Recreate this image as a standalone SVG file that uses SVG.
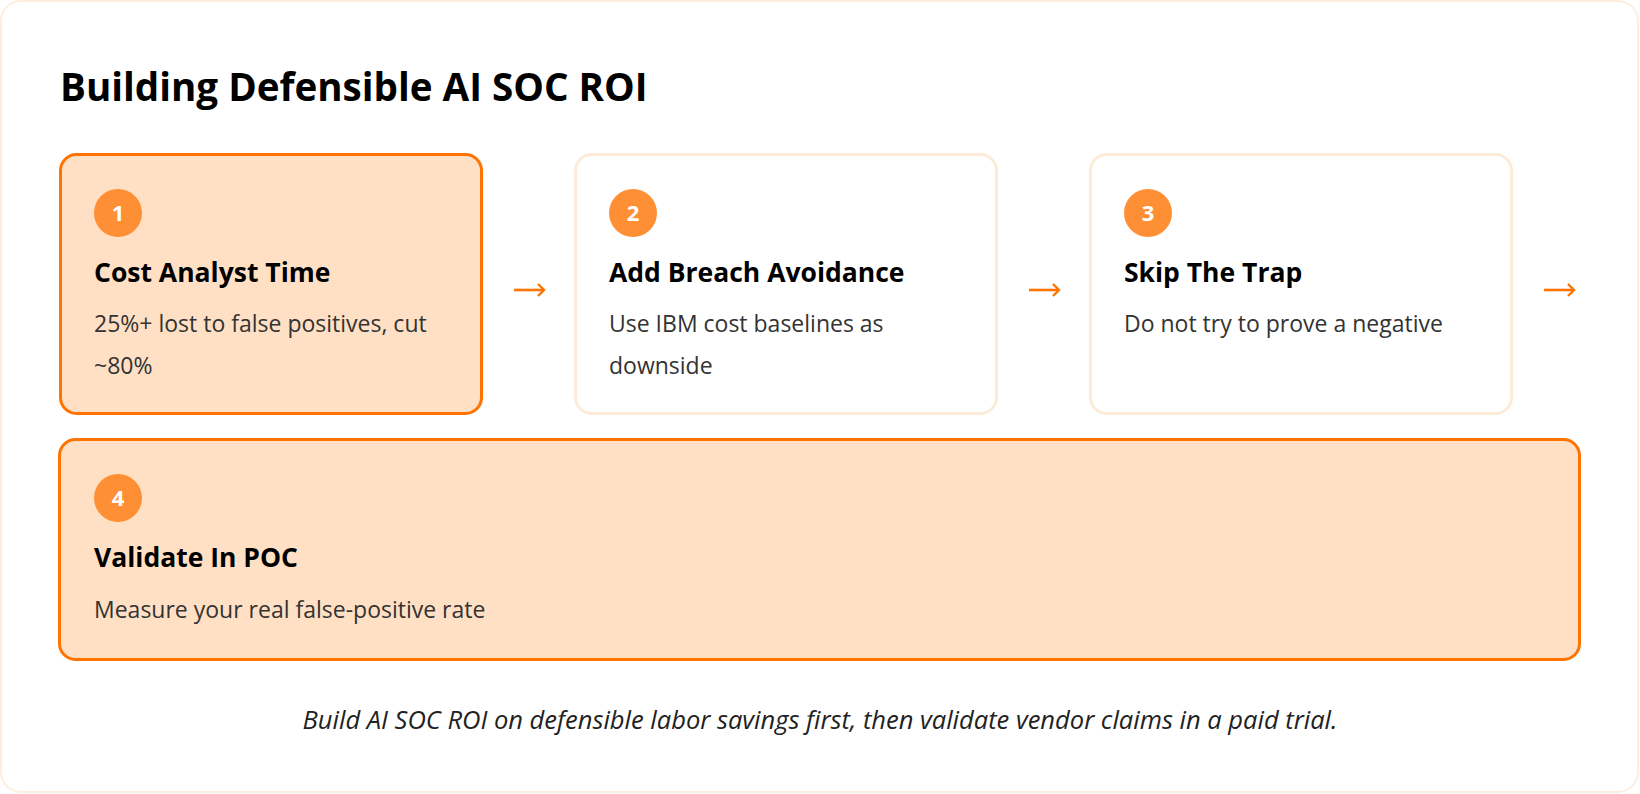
<svg xmlns="http://www.w3.org/2000/svg" width="1640" height="794" viewBox="0 0 1640 794">
<style>
.frame{fill:#ffffff;stroke:#fdefe0;stroke-width:2}
.hl{fill:#ffe0c4;stroke:#ff7300;stroke-width:3}
.pl{fill:#ffffff;stroke:#fdebd9;stroke-width:3}
.badge{fill:#ff8f35}
.num{font-family:"Open Sans","Noto Sans",sans-serif;font-weight:700;font-size:22px;fill:#ffffff;text-anchor:middle}
.h1{font-family:"Open Sans","Noto Sans",sans-serif;font-weight:700;font-size:38.6px;fill:#000000}
.h2{font-family:"Open Sans","Noto Sans",sans-serif;font-weight:700;font-size:26.5px;fill:#000000}
.d{font-family:"Open Sans","Noto Sans",sans-serif;font-size:23px;fill:#333333}
.foot{font-family:"Open Sans","Noto Sans",sans-serif;font-style:italic;font-size:25.5px;fill:#222222;text-anchor:middle}
.conn{stroke:#ff7300;stroke-width:2.6;fill:none}
</style>
<defs>
<marker id="ah" viewBox="0 0 9 14" refX="7.5" refY="7" markerWidth="9" markerHeight="14" orient="auto" markerUnits="userSpaceOnUse">
<path d="M1.5,1 L7.5,7 L1.5,13" fill="none" stroke="#ff7300" stroke-width="2.4"/>
</marker>
</defs>
<rect class="frame" x="1" y="1" width="1637" height="791" rx="20"/>
<text class="h1" x="60" y="101">Building Defensible AI SOC ROI</text>
<g id="step1">
<rect class="hl" x="60.5" y="154.5" width="421" height="259" rx="16"/>
<circle class="badge" cx="118" cy="213" r="24"/>
<text class="num" x="118" y="221">1</text>
<text class="h2" x="94" y="282">Cost Analyst Time</text>
<text class="d" x="94" y="332">25%+ lost to false positives, cut</text>
<text class="d" x="94" y="374">~80%</text>
</g>
<g id="step2">
<rect class="pl" x="575.5" y="154.5" width="421" height="259" rx="16"/>
<circle class="badge" cx="633" cy="213" r="24"/>
<text class="num" x="633" y="221">2</text>
<text class="h2" x="609" y="282">Add Breach Avoidance</text>
<text class="d" x="609" y="332">Use IBM cost baselines as</text>
<text class="d" x="609" y="374">downside</text>
</g>
<g id="step3">
<rect class="pl" x="1090.5" y="154.5" width="421" height="259" rx="16"/>
<circle class="badge" cx="1148" cy="213" r="24"/>
<text class="num" x="1148" y="221">3</text>
<text class="h2" x="1124" y="282">Skip The Trap</text>
<text class="d" x="1124" y="332">Do not try to prove a negative</text>
</g>
<g id="step4">
<rect class="hl" x="59.5" y="439.5" width="1520" height="220" rx="16"/>
<circle class="badge" cx="118" cy="498" r="24"/>
<text class="num" x="118" y="506">4</text>
<text class="h2" x="94" y="567">Validate In POC</text>
<text class="d" x="94" y="618">Measure your real false-positive rate</text>
</g>
<g id="connectors">
<line class="conn" x1="514" y1="290" x2="544" y2="290" marker-end="url(#ah)"/>
<line class="conn" x1="1029" y1="290" x2="1059" y2="290" marker-end="url(#ah)"/>
<line class="conn" x1="1544" y1="290" x2="1574" y2="290" marker-end="url(#ah)"/>
</g>
<text class="foot" x="820" y="729">Build AI SOC ROI on defensible labor savings first, then validate vendor claims in a paid trial.</text>
</svg>
